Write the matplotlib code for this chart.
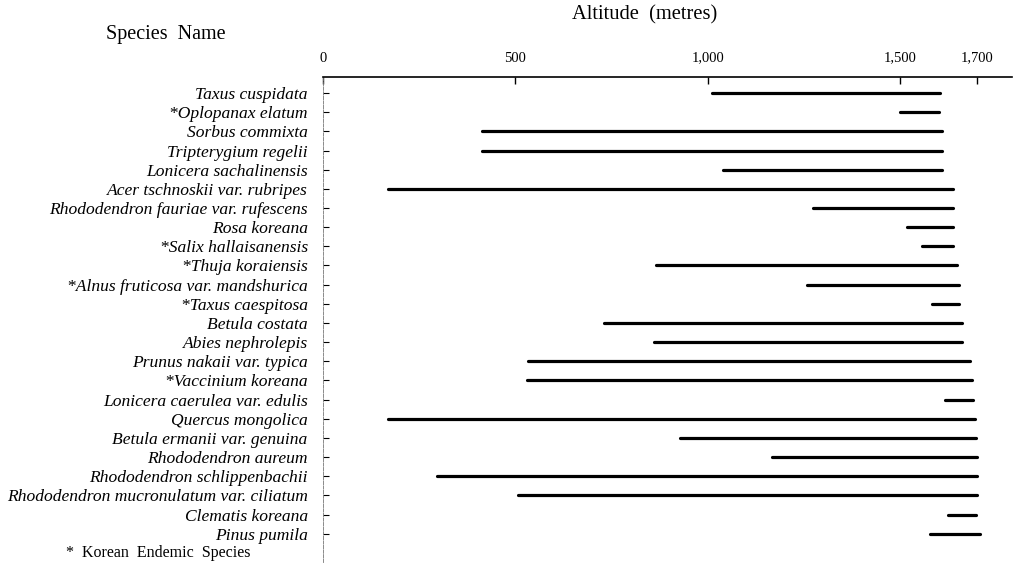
import matplotlib.pyplot as plt

species = [
    "Taxus cuspidata", "*Oplopanax elatum", "Sorbus commixta", "Tripterygium regelii",
    "Lonicera sachalinensis", "Acer tschnoskii var. rubripes",
    "Rhododendron fauriae var. rufescens", "Rosa koreana", "*Salix hallaisanensis",
    "*Thuja koraiensis", "*Alnus fruticosa var. mandshurica", "*Taxus caespitosa",
    "Betula costata", "Abies nephrolepis", "Prunus nakaii var. typica",
    "*Vaccinium koreana", "Lonicera caerulea var. edulis", "Quercus mongolica",
    "Betula ermanii var. genuina", "Rhododendron aureum",
    "Rhododendron schlippenbachii", "Rhododendron mucronulatum var. ciliatum",
    "Clematis koreana", "Pinus pumila",
]
low = [1011, 1499, 412, 412, 1038, 168, 1273, 1518, 1555, 865, 1258, 1581,
       731, 860, 533, 529, 1616, 170, 927, 1167, 295, 507, 1624, 1577]
high = [1604, 1601, 1609, 1608, 1608, 1636, 1637, 1637, 1637, 1648, 1653, 1652,
        1661, 1660, 1681, 1685, 1689, 1694, 1696, 1698, 1700, 1698, 1696, 1706]
ticks = [0, 500, 1000, 1500, 1700]
tick_labels = ["0", "500", "1,000", "1,500", "1,700"]

plt.rcParams['font.family'] = ['Liberation Serif', 'DejaVu Serif']

W, H = 1034, 566
fig = plt.figure(figsize=(W / 100, H / 100), dpi=100)
ax = fig.add_axes([323 / W, 1 - 562 / H, (1012 - 323) / W, (562 - 77) / H])

rows = list(range(len(species)))
ax.hlines(rows, low, high, colors='black', linewidth=2.3, capstyle='round')

ax.set_xlim(0, 1790)
ax.set_ylim(24.47, -0.835)

ax.spines['right'].set_visible(False)
ax.spines['bottom'].set_visible(False)
ax.spines['top'].set_linewidth(1.2)
ax.spines['left'].set_linewidth(0.6)
ax.spines['left'].set_color('#777777')
ax.spines['left'].set_linestyle((0, (4, 1.5)))

ax.xaxis.tick_top()
ax.set_xticks(ticks)
ax.set_xticklabels(tick_labels, fontsize=10.5)
ax.tick_params(axis='x', direction='in', length=5, width=1, pad=9)

ax.set_yticks(rows)
ax.set_yticklabels(species, fontsize=12.6, style='italic')
ax.tick_params(axis='y', direction='in', length=4, width=0.8, pad=11)

fig.text(645 / W, 1 - 15 / H, "Altitude  (metres)", fontsize=14.8,
         ha='center', va='center')
fig.text(166 / W, 1 - 35 / H, "Species  Name", fontsize=14.5,
         ha='center', va='center')
fig.text(66 / W, 1 - 553 / H, "*  Korean  Endemic  Species", fontsize=11.5,
         ha='left', va='center')

plt.savefig("out.png", dpi=100)
